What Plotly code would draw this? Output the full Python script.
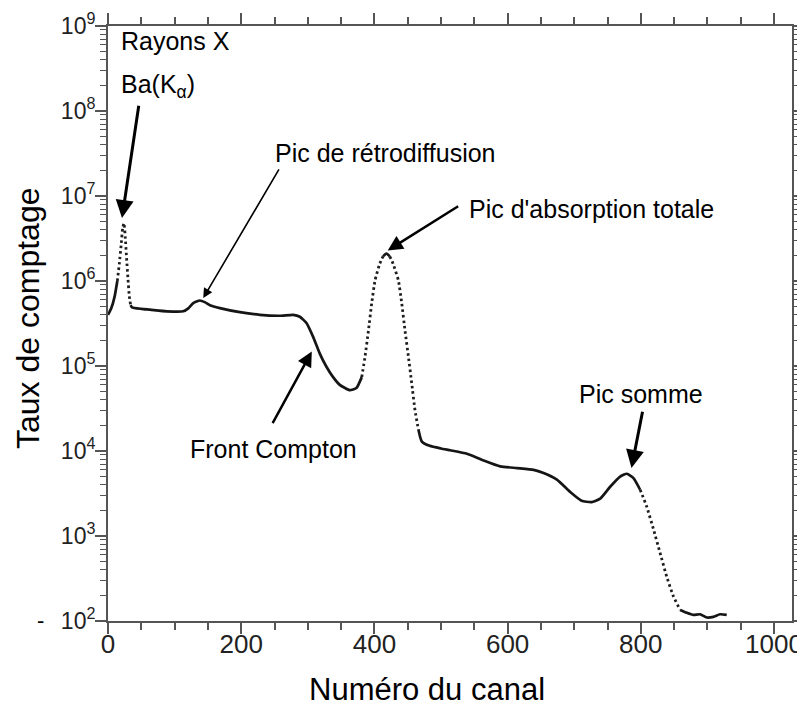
import plotly.graph_objects as go

# ---- data ----
channels = [0, 5, 10, 14, 17, 20, 22, 24, 26, 28, 30, 32, 34, 36, 50, 63, 88, 113,
            121, 128, 138, 146, 153, 168, 198, 228, 258, 278, 288, 298, 308, 318,
            328, 338, 348, 356, 363, 373, 381, 386, 391, 396, 401, 408, 413, 418,
            423, 428, 436, 441, 446, 451, 456, 461, 466, 471, 483, 500, 514, 539,
            563, 589, 614, 639, 654, 674, 694, 711, 726, 739, 754, 769, 779, 789,
            799, 809, 819, 829, 839, 849, 859, 869, 879, 889, 899, 909, 919, 929]
counts = [4.0e5, 4.8e5, 6.6e5, 1.0e6, 1.6e6, 2.8e6, 4.2e6, 4.8e6, 3.2e6, 1.8e6,
          1.05e6, 6.6e5, 5.2e5, 4.9e5, 4.7e5, 4.6e5, 4.4e5, 4.4e5,
          4.8e5, 5.5e5, 5.9e5, 5.6e5, 5.2e5, 4.8e5, 4.3e5, 4.0e5, 3.9e5, 4.0e5,
          3.8e5, 3.2e5, 2.2e5, 1.4e5,
          9.8e4, 7.4e4, 6.0e4, 5.5e4, 5.2e4, 5.5e4, 7.4e4, 1.3e5, 2.6e5, 5.5e5,
          1.02e6, 1.6e6, 1.95e6, 2.1e6,
          1.95e6, 1.6e6, 1.02e6, 5.5e5, 2.6e5, 1.3e5, 6.3e4, 3.0e4, 1.8e4, 1.3e4,
          1.15e4, 1.07e4, 1.02e4, 9.3e3,
          7.8e3, 6.6e3, 6.3e3, 6.0e3, 5.5e3, 4.6e3, 3.3e3, 2.6e3, 2.5e3, 2.75e3,
          3.8e3, 5.0e3, 5.4e3, 4.8e3,
          3.5e3, 2.2e3, 1.2e3, 630, 330, 195, 135, 125, 118, 120, 110, 112, 120, 118]

# channel ranges where the recorded points are sparse (drawn dotted in the figure)
sparse_ranges = [(14, 34), (381, 413), (423, 466), (799, 859)]

x_tick_vals = [0, 200, 400, 600, 800, 1000]
x_tick_text = ["0", "200", "400", "600", "800", "1000"]
y_tick_vals = [1e2, 1e3, 1e4, 1e5, 1e6, 1e7, 1e8, 1e9]
y_tick_text = ["10<sup>2</sup>", "10<sup>3</sup>", "10<sup>4</sup>", "10<sup>5</sup>",
               "10<sup>6</sup>", "10<sup>7</sup>", "10<sup>8</sup>", "10<sup>9</sup>"]

x_title = "Numéro du canal"
y_title = "Taux de comptage"

# annotation labels: (text, channel, log10 count)
labels = [
    ("Rayons X", 16.5, 8.82),
    ("Ba(K<sub>α</sub>)", 16.5, 8.30),
    ("Pic de rétrodiffusion", 248, 7.51),
    ("Pic d'absorption totale", 539, 6.85),
    ("Front Compton", 120, 4.02),
    ("Pic somme", 704, 4.67),
]
# arrows: (tip channel, tip log10, tail channel, tail log10, width)
arrows = [
    (21, 6.74, 46.5, 8.08, 3),
    (143, 5.80, 258, 7.33, 1.6),
    (420, 6.36, 528, 6.89, 2.5),
    (306, 5.17, 246, 4.31, 2.5),
    (786, 3.80, 803, 4.48, 3),
]

FONT = "Liberation Sans, Arial, sans-serif"
AX = "#555555"

# minor tick positions on the log axis (2..9 of each decade)
y_minor_vals = [m * 10 ** e for e in range(2, 9) for m in range(2, 10)]

# page offset of the figure inside the browser page (default body margin)
OFF = 8
W, H = 805 - OFF, 712 - OFF
# wanted plot-area edges, in screenshot pixels
pl, pr, pt, pb = 108, 792, 26, 621

fig = go.Figure()

# split the spectrum into solid / dotted pieces (shared end points)
def in_sparse(c):
    return any(a <= c <= b for a, b in sparse_ranges)

styles = [in_sparse(channels[i]) and in_sparse(channels[i + 1])
          for i in range(len(channels) - 1)]
start = 0
for i in range(1, len(styles) + 1):
    if i == len(styles) or styles[i] != styles[start]:
        dotted = styles[start]
        seg_x = channels[start:i + 1]
        seg_y = counts[start:i + 1]
        fig.add_trace(go.Scatter(
            x=seg_x, y=seg_y, mode="lines",
            line=dict(color="#1e1e1e" if dotted else "#151515",
                      width=2.8 if dotted else 2.7,
                      dash="2.5px,3px" if dotted else "solid",
                      shape="spline", smoothing=0.5),
            showlegend=False, hoverinfo="x+y"))
        start = i

annotations = []
for text, cx, ly in labels:
    annotations.append(dict(x=cx, y=ly, xref="x", yref="y", text=text,
                            showarrow=False, xanchor="left", yanchor="middle",
                            font=dict(family=FONT, size=25, color="#000")))
for tx, ty, ax_, ay_, w in arrows:
    annotations.append(dict(x=tx, y=ty, xref="x", yref="y", ax=ax_, ay=ay_,
                            axref="x", ayref="y", text="", showarrow=True,
                            arrowhead=2, arrowsize=1.2, arrowwidth=w,
                            arrowcolor="#000", standoff=0, startstandoff=0))

def px(xp):
    return (xp - pl) / (pr - pl)
def py(yp):
    return (pb - yp) / (pb - pt)

annotations.append(dict(x=px(427), y=py(689), xref="paper", yref="paper", text=x_title,
                        showarrow=False, xanchor="center", yanchor="middle",
                        font=dict(family=FONT, size=31, color="#000")))
annotations.append(dict(x=px(28), y=py(318), xref="paper", yref="paper", text=y_title,
                        textangle=-90, showarrow=False, xanchor="center", yanchor="middle",
                        font=dict(family=FONT, size=32, color="#000")))
annotations.append(dict(x=px(40), y=py(620), xref="paper", yref="paper", text="-",
                        showarrow=False, xanchor="center", yanchor="middle",
                        font=dict(family=FONT, size=22, color="#000")))

fig.update_layout(
    width=W, height=H,
    margin=dict(l=pl - OFF, r=(OFF + W) - pr, t=pt - OFF, b=(OFF + H) - pb, autoexpand=False),
    paper_bgcolor="white", plot_bgcolor="white",
    font=dict(family=FONT, color="#222"),
    annotations=annotations,
    xaxis=dict(range=[0, 1027], tickmode="array", tickvals=x_tick_vals, ticktext=x_tick_text,
               ticks="outside", ticklen=11, tickwidth=2, tickcolor=AX,
               showline=True, linecolor=AX, linewidth=2, mirror="allticks",
               showgrid=False, zeroline=False, automargin=False,
               ticklabelstandoff=-12,
               tickfont=dict(family=FONT, size=26, color="#222"),
               minor=dict(tickmode="linear", tick0=0, dtick=50, ticks="outside", ticklen=7,
                          tickwidth=1.5, tickcolor=AX, showgrid=False)),
    yaxis=dict(type="log", range=[2, 9], tickmode="array", tickvals=y_tick_vals,
               ticktext=y_tick_text,
               ticks="outside", ticklen=11, tickwidth=2, tickcolor=AX,
               showline=True, linecolor=AX, linewidth=2, mirror="allticks",
               showgrid=False, zeroline=False, automargin=False,
               ticklabelstandoff=-5,
               tickfont=dict(family=FONT, size=23, color="#222"),
               minor=dict(tickmode="array", tickvals=y_minor_vals, ticks="outside",
                          ticklen=6, tickwidth=1.3, tickcolor=AX, showgrid=False)),
)

fig.write_html("out.html")
